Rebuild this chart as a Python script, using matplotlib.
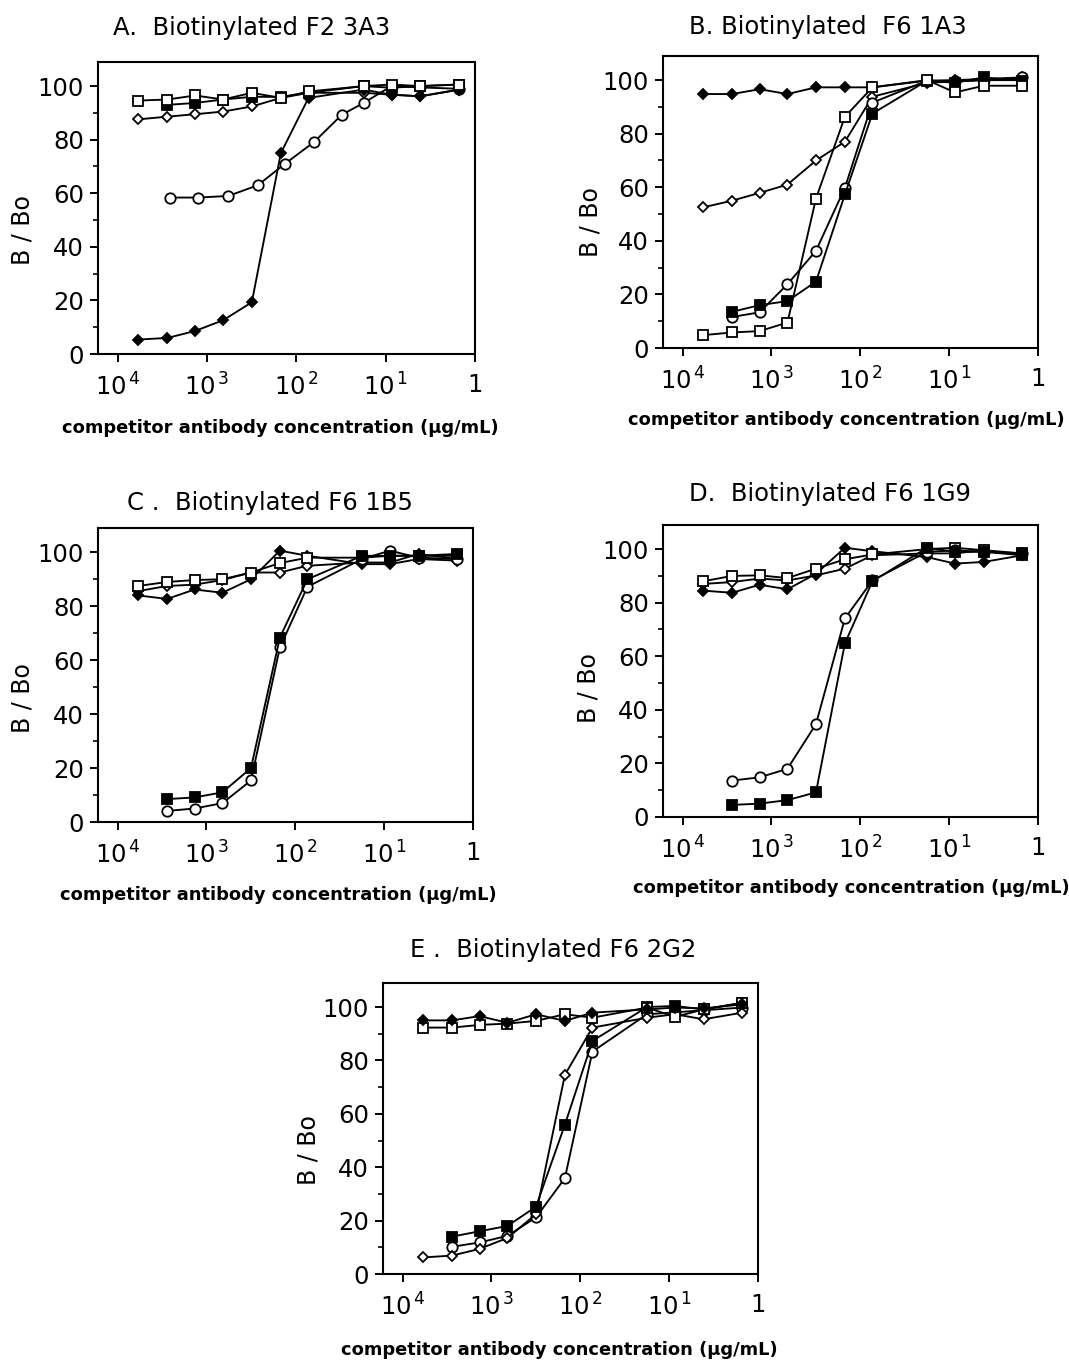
import numpy as np
import matplotlib
matplotlib.use("Agg")
import matplotlib.pyplot as plt
from matplotlib.ticker import FixedLocator, NullLocator, MultipleLocator

plt.rcParams['font.family'] = ['DejaVu Sans']
plt.rcParams['mathtext.fontset'] = 'dejavusans'

W, H = 1069, 1362
nan = np.nan

# competitor antibody concentration (ug/mL)
conc = [5860, 2770, 1360, 660, 315, 149, 73, 17.7, 8.6, 4.1, 1.5]
conc_a_circle = [2600, 1250, 575, 270, 134, 63, 31, 17.7, 8.6, 4.1, 1.5]

x_ticks = [1e4, 1e3, 1e2, 1e1, 1]
x_ticklabels = [r"$10^{\,4}$", r"$10^{\,3}$", r"$10^{\,2}$", r"$10^{\,1}$", "1"]
y_ticks = [0, 20, 40, 60, 80, 100]

# Panel A
a_open_square = [94.6, 95, 96.5, 95, 97.5, 95.6, 98, 100, 100.6, 100, 100.6]
a_filled_square = [nan, 93, 93.7, 95, 96, 96, 97.5, 100, 99.4, 100, 100.6]
a_open_diamond = [87.6, 88.6, 89.5, 90.5, 92.4, 95.6, 97.5, 97.5, 96.8, 96.2, 98.7]
a_filled_diamond = [5.4, 6, 8.6, 12.6, 19.3, 75, 95.6, 98.7, 96.8, 96.2, 98.7]
a_open_circle = [58.4, 58.4, 59, 63, 71, 79.2, 89.3, 93.7, 100, 99.5, 99]

# Panel B
b_filled_diamond = [94.8, 94.8, 96.6, 94.8, 97.3, 97.3, 97.3, 99.8, 100, 100.4, 101]
b_open_diamond = [52.5, 55, 57.9, 61, 70, 77, 93.8, 99, 99.5, 100, 100]
b_open_square = [4.8, 5.8, 6.3, 9.5, 55.8, 86.3, 97.3, 100, 95.4, 97.9, 97.9]
b_open_circle = [nan, 11.6, 13.3, 23.8, 36.3, 59.8, 91.6, 99.8, 99.5, 100, 101]
b_filled_square = [nan, 13.5, 16, 17.5, 24.8, 57.3, 87.5, 99.8, 99, 101, 99.8]

# Panel C
c_open_square = [87.5, 89, 89.7, 90, 92.5, 96, 98, 98, 98.7, 98.7, 98.7]
c_filled_diamond = [84, 82.7, 86.2, 85, 90, 100.6, 98.7, 95.6, 95.6, 97.5, 96.9]
c_open_diamond = [85.6, 87.5, 88, 89.7, 92.5, 92.5, 95, 96.2, 96.2, 99.4, 97.5]
c_filled_square = [nan, 8.5, 9.1, 11, 20, 68.4, 90, 98.7, 98.7, 98.7, 99.4]
c_open_circle = [nan, 4.1, 5, 7, 15.4, 64.7, 87.2, 97.5, 100.6, 98, 97.5]

# Panel D
d_open_square = [88, 90, 90.2, 89.2, 92.7, 96.2, 98, 100, 100.5, 99.6, 98.4]
d_filled_diamond = [84.5, 83.7, 86.7, 85, 90.8, 100.5, 99.2, 97, 94.6, 95.2, 97.7]
d_open_diamond = [87, 87.7, 89, 88.3, 90.2, 92.7, 97.7, 98.4, 98.4, 99.6, 97.7]
d_open_circle = [nan, 13.6, 14.8, 18, 34.7, 74.1, 88.3, 99, 99.5, 99, 98.4]
d_filled_square = [nan, 4.5, 5, 6.3, 9.2, 64.8, 88, 100.5, 99, 99, 97.7]

# Panel E
e_filled_diamond = [95, 95, 96.6, 94.1, 97.3, 94.8, 97.9, 99.1, 99.8, 99.5, 101]
e_open_square = [92.3, 92.3, 93.3, 93.8, 94.8, 97.3, 96, 99.8, 96.3, 99.1, 101.6]
e_open_diamond = [6.2, 6.9, 9.4, 13.5, 22.4, 74.6, 92.3, 96, 97.3, 95.4, 97.9]
e_filled_square = [nan, 14, 16, 18, 25.2, 55.9, 87.3, 100, 100.4, 99.1, 101.6]
e_open_circle = [nan, 10.2, 11.8, 14.3, 21.2, 35.9, 83.3, 97.3, 98, 98.8, 99.8]

titles = ["A.  Biotinylated F2 3A3", "B. Biotinylated  F6 1A3",
          "C .  Biotinylated F6 1B5", "D.  Biotinylated F6 1G9",
          "E .  Biotinylated F6 2G2"]
xlabel = "competitor antibody concentration (\u00b5g/mL)"
ylabel = "B / Bo"

styles = {
    'open_square': dict(marker='s', mfc='white', ms=7),
    'filled_square': dict(marker='s', mfc='black', ms=7),
    'open_diamond': dict(marker='D', mfc='white', ms=5),
    'filled_diamond': dict(marker='D', mfc='black', ms=5.5),
    'open_circle': dict(marker='o', mfc='white', ms=7.5),
}

panels = [
    dict(box=(98, 475, 62, 354), title_xy=(252, 28), xl_xy=(280, 428), yl_xy=(22, 230),
         series=[('open_circle', conc_a_circle, a_open_circle),
                 ('open_diamond', conc, a_open_diamond),
                 ('filled_diamond', conc, a_filled_diamond),
                 ('filled_square', conc, a_filled_square),
                 ('open_square', conc, a_open_square)]),
    dict(box=(663, 1038, 56, 348), title_xy=(828, 27), xl_xy=(846, 420), yl_xy=(590, 222),
         series=[('open_diamond', conc, b_open_diamond),
                 ('filled_diamond', conc, b_filled_diamond),
                 ('open_circle', conc, b_open_circle),
                 ('filled_square', conc, b_filled_square),
                 ('open_square', conc, b_open_square)]),
    dict(box=(98, 473, 528, 822), title_xy=(270, 503), xl_xy=(278, 895), yl_xy=(22, 698),
         series=[('open_diamond', conc, c_open_diamond),
                 ('filled_diamond', conc, c_filled_diamond),
                 ('open_square', conc, c_open_square),
                 ('open_circle', conc, c_open_circle),
                 ('filled_square', conc, c_filled_square)]),
    dict(box=(663, 1038, 525, 817), title_xy=(830, 494), xl_xy=(851, 888), yl_xy=(588, 688),
         series=[('open_diamond', conc, d_open_diamond),
                 ('filled_diamond', conc, d_filled_diamond),
                 ('open_square', conc, d_open_square),
                 ('open_circle', conc, d_open_circle),
                 ('filled_square', conc, d_filled_square)]),
    dict(box=(383, 758, 983, 1274), title_xy=(553, 950), xl_xy=(559, 1350), yl_xy=(308, 1150),
         series=[('open_circle', conc, e_open_circle),
                 ('open_diamond', conc, e_open_diamond),
                 ('filled_square', conc, e_filled_square),
                 ('open_square', conc, e_open_square),
                 ('filled_diamond', conc, e_filled_diamond)]),
]

fig = plt.figure(figsize=(W / 100, H / 100), dpi=100)

for p, title in zip(panels, titles):
    l, r, t, b = p['box']
    ax = fig.add_axes([l / W, 1 - b / H, (r - l) / W, (b - t) / H])
    for kind, xs, ys in p['series']:
        xs = np.asarray(xs, float)
        ys = np.asarray(ys, float)
        m = np.isfinite(ys)
        st = styles[kind]
        ax.plot(xs[m], ys[m], color='black', lw=1.35, marker=st['marker'],
                ms=st['ms'], mfc=st['mfc'], mec='black', mew=1.3)
    ax.set_xscale('log')
    ax.set_xlim(10 ** 4.22, 1)
    ax.set_ylim(0, 109)
    ax.xaxis.set_major_locator(FixedLocator(x_ticks))
    ax.set_xticklabels(x_ticklabels)
    ax.xaxis.set_minor_locator(NullLocator())
    ax.yaxis.set_major_locator(FixedLocator(y_ticks))
    ax.yaxis.set_minor_locator(MultipleLocator(10))
    ax.tick_params(axis='both', which='major', direction='out', length=6, width=1.4,
                   labelsize=17.5, pad=4)
    ax.tick_params(axis='x', which='major', pad=8)
    ax.tick_params(axis='y', which='minor', direction='out', length=3.5, width=1.2)
    for sp in ax.spines.values():
        sp.set_linewidth(1.5)
    fig.text(p['title_xy'][0] / W, 1 - p['title_xy'][1] / H, title,
             ha='center', va='center', fontsize=17.5)
    fig.text(p['xl_xy'][0] / W, 1 - p['xl_xy'][1] / H, xlabel,
             ha='center', va='center', fontsize=12.9, fontweight='bold')
    fig.text(p['yl_xy'][0] / W, 1 - p['yl_xy'][1] / H, ylabel,
             ha='center', va='center', fontsize=17, rotation=90)

fig.savefig('out.png', dpi=100, facecolor='white')
